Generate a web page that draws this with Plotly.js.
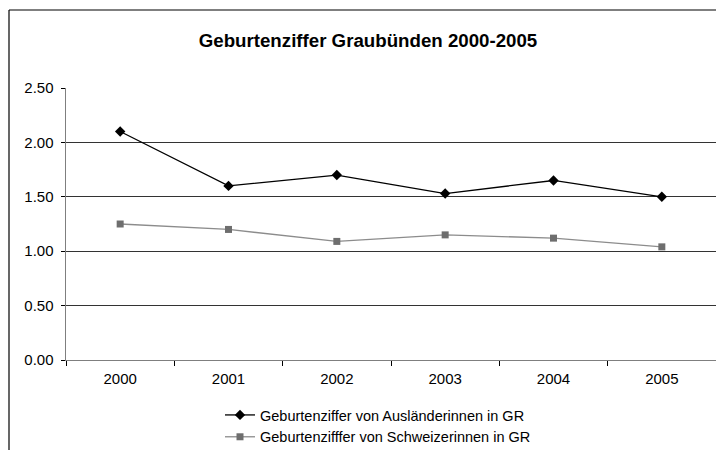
<!DOCTYPE html>
<html>
<head>
<meta charset="utf-8">
<script src="https://cdn.plot.ly/plotly-3.0.1.min.js"></script>
<style>
  html, body { margin: 0; padding: 0; background: #fff; overflow: hidden; }
  #chart { width: 716px; height: 450px; }
</style>
</head>
<body>
<div id="chart"></div>
<script>
const years = ["2000", "2001", "2002", "2003", "2004", "2005"];
const auslaenderinnen = [2.10, 1.60, 1.70, 1.53, 1.65, 1.50];
const schweizerinnen = [1.25, 1.20, 1.09, 1.15, 1.12, 1.04];
const seriesNames = ["Geburtenziffer von Ausländerinnen in GR", "Geburtenzifffer von Schweizerinnen in GR"];
const yTicks = [0, 0.5, 1.0, 1.5, 2.0, 2.5];

const font = "Arial, 'Liberation Sans', sans-serif";

const traces = [
  {
    x: years, y: auslaenderinnen, name: seriesNames[0], type: "scatter", mode: "lines+markers",
    line: { color: "#000000", width: 1.3 },
    marker: { symbol: "diamond", size: 8, color: "#000000" }
  },
  {
    x: years, y: schweizerinnen, name: seriesNames[1], type: "scatter", mode: "lines+markers",
    line: { color: "#8c8c8c", width: 1.3 },
    marker: { symbol: "square", size: 7, color: "#6e6e6e" }
  }
];

const layout = {
  width: 716, height: 450,
  margin: { l: 66, r: 0, t: 88, b: 90, pad: 0, autoexpand: false },
  paper_bgcolor: "#ffffff", plot_bgcolor: "#ffffff",
  font: { family: font, size: 15, color: "#000000" },
  title: {
    text: "<b>Geburtenziffer Graubünden 2000-2005</b>",
    font: { family: font, size: 18.7, color: "#000000" },
    x: 368 / 716, xref: "container", xanchor: "center",
    y: 1 - 40 / 450, yref: "container", yanchor: "middle"
  },
  xaxis: {
    type: "category", range: [-0.5, 5.5],
    showgrid: false, zeroline: false,
    showline: true, linecolor: "#7f7f7f", linewidth: 1,
    ticks: "outside", tickson: "boundaries", ticklen: 5, tickcolor: "#000000", tickwidth: 1,
    ticklabelstandoff: 5,
    tickfont: { family: font, size: 15, color: "#000000" },
    automargin: false,
    fixedrange: true
  },
  yaxis: {
    range: [0, 2.5], tickvals: yTicks, tickformat: ".2f",
    showgrid: true, gridcolor: "#333333", gridwidth: 1,
    zeroline: false,
    showline: true, linecolor: "#7f7f7f", linewidth: 1.5,
    ticks: "outside", ticklen: 4, tickcolor: "#000000", tickwidth: 1,
    ticklabelstandoff: 4,
    tickfont: { family: font, size: 15, color: "#000000" },
    automargin: false,
    fixedrange: true
  },
  showlegend: true,
  legend: {
    x: 220 / 716, xref: "container", xanchor: "left",
    y: 1 - 399 / 450, yref: "container", yanchor: "top",
    orientation: "v", font: { family: font, size: 14.5, color: "#000000" },
    bgcolor: "rgba(0,0,0,0)", borderwidth: 0, tracegroupgap: 0
  },
  shapes: [
    { type: "line", xref: "paper", yref: "paper", x0: (9 - 66) / 650, x1: 1.1, y0: (360 - 10) / 272, y1: (360 - 10) / 272, line: { color: "#000000", width: 1.2 } },
    { type: "line", xref: "paper", yref: "paper", x0: (9 - 66) / 650, x1: (9 - 66) / 650, y0: (360 - 10) / 272, y1: -0.5, line: { color: "#000000", width: 1.2 } }
  ]
};

Plotly.newPlot("chart", traces, layout, { displayModeBar: false, staticPlot: true });
</script>
</body>
</html>
